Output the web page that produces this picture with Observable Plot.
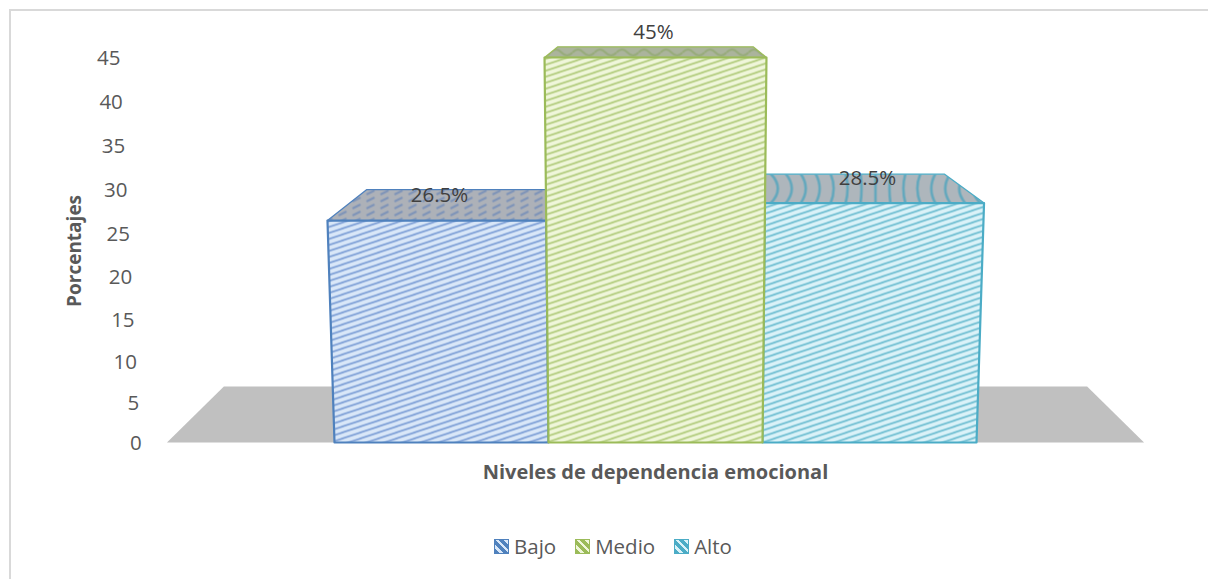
<!DOCTYPE html>
<html><head><meta charset="utf-8">
<script src="https://cdn.jsdelivr.net/npm/d3@7"></script>
<script src="https://cdn.jsdelivr.net/npm/@observablehq/plot@0.6"></script>
<style>
html,body{margin:0;padding:0;background:#fff;overflow:hidden}
body{width:1208px;height:579px;position:relative;font-family:"Open Sans",sans-serif}
#edge{position:absolute;left:9px;top:9px;right:0;bottom:0;border-left:2px solid #d9d9d9;border-top:2px solid #d9d9d9}
#chart{position:absolute;left:0;top:0}
#legend{position:absolute;left:494px;top:531px;display:flex;align-items:center;font-size:20.5px;line-height:30px;color:#595959;white-space:nowrap}
#legend span.sw{display:inline-block;width:15px;height:15px;margin-right:5px;box-sizing:border-box;border:1px solid}
#legend span.t{margin-right:19px}
svg{display:block}
</style></head><body>
<div id="edge"></div><div id="chart"></div><div id="legend"></div>
<script>
const categories = ["Bajo", "Medio", "Alto"];
const values = [26.5, 45, 28.5];
const valueLabels = ["26.5%", "45%", "28.5%"];
const yTicks = [0, 5, 10, 15, 20, 25, 30, 35, 40, 45];
const strokes = ["#4f81bd", "#9bbb59", "#4bacc6"];
const hatchBg = ["#d9e7f8", "#eff6da", "#daf2f8"];
const hatchInk = ["#7d9fd6", "#b1cb7c", "#6dbdd1"];
const topInk = ["#7d93b8", "#97ab7a", "#63a8bd"];

// perspective of the 3-D box, expressed in scale units
const center = 1.5;
const flare = v => 1 + 0.000825 * v;      // front faces widen with height
const backShrink = 0.88;
const depth = v => 3.55 - 0.127 * (v - 26.5);
const fx = (x, v) => center + (x - center) * flare(v);
const boxes = categories.map((c, i) => ({c, i, v: values[i]}));

function frontPoly(b) {
  return [[b.i, 0], [b.i + 1, 0], [fx(b.i + 1, b.v), b.v], [fx(b.i, b.v), b.v]]
    .map(([x, y]) => ({x, y, c: b.c}));
}
function topPoly(b) {
  const l = fx(b.i, b.v), r = fx(b.i + 1, b.v), t = b.v + depth(b.v);
  const s = x => center + (x - center) * backShrink;
  return [[l, b.v], [r, b.v], [s(r), t], [s(l), t]].map(([x, y]) => ({x, y, c: b.c}));
}
const floor = [[-0.783, 0], [3.783, 0], [3.517, 7.05], [-0.517, 7.05]].map(([x, y]) => ({x, y}));

function defs() {
  const d = d3.create("svg:defs");
  categories.forEach((c, i) => {
    const p = d.append("pattern").attr("id", "front" + i).attr("patternUnits", "userSpaceOnUse")
      .attr("width", 18).attr("height", 6);
    p.append("rect").attr("width", 18).attr("height", 6).attr("fill", hatchBg[i]);
    for (const o of [0, 6, -6])
      p.append("path").attr("d", `M-3 ${7 + o}L21 ${-1 + o}`).attr("stroke", hatchInk[i]).attr("stroke-width", 1.7).attr("fill", "none");
    const q = d.append("pattern").attr("id", "top" + i).attr("patternUnits", "userSpaceOnUse");
    if (i === 2) {
      q.attr("width", 220).attr("height", 30).attr("patternTransform", "translate(765,173)");
      q.append("rect").attr("width", 220).attr("height", 30).attr("fill", "#aeb6bc");
      for (const x of d3.range(5, 220, 15)) {
        q.append("path").attr("d", `M${x} 0Q${x + (110 - x) * 0.14} 15 ${x} 30`)
          .attr("stroke", topInk[i]).attr("stroke-width", 2.6).attr("fill", "none");
      }
    } else if (i === 1) {
      q.attr("width", 22).attr("height", 12).attr("patternTransform", "translate(0,46)");
      q.append("rect").attr("width", 22).attr("height", 12).attr("fill", "#abb49c");
      q.append("path").attr("d", "M0 6Q5.5 0 11 6T22 6").attr("stroke", topInk[i]).attr("stroke-width", 2).attr("fill", "none");
    } else {
      q.attr("width", 14).attr("height", 7);
      q.append("rect").attr("width", 14).attr("height", 7).attr("fill", "#adb1b8");
      q.append("path").attr("d", "M2 5L10 1").attr("stroke", topInk[i]).attr("stroke-width", 2).attr("fill", "none");
    }
  });
  return d.node();
}

const faceOf = (b) => [
  Plot.line(topPoly(b), {x: "x", y: "y", curve: "linear-closed", fill: `url(#top${b.i})`, stroke: strokes[b.i], strokeWidth: 1.3}),
  Plot.line(frontPoly(b), {x: "x", y: "y", curve: "linear-closed", fill: `url(#front${b.i})`, stroke: strokes[b.i], strokeWidth: 2.2})
];
const u = px => (px - 334) / 214;
const tickX = v => u(120 + (45 - v) * 0.47);

const plot = Plot.plot({
  width: 1208, height: 525,
  marginTop: 0, marginRight: 0, marginBottom: 0, marginLeft: 0,
  style: {background: "transparent", fontFamily: "'Open Sans',sans-serif", overflow: "visible"},
  x: {type: "linear", domain: [0, 3], range: [334, 976], axis: null},
  y: {type: "pow", exponent: 1.04, domain: [0, 45], range: [442, 57], axis: null},
  marks: [
    defs,
    Plot.line(floor, {x: "x", y: "y", curve: "linear-closed", fill: "#c0c0c0", stroke: "none"}),
    ...faceOf(boxes[0]), ...faceOf(boxes[2]), ...faceOf(boxes[1]),
    Plot.text(boxes, {x: b => b.i + 0.5, y: "v", text: (b, i) => valueLabels[i], dy: -25, dx: -2, fontSize: 20.5, fill: "#404040", textAnchor: "middle"}),
    Plot.text(yTicks, {x: tickX, y: d => d, text: d => String(d), textAnchor: "end", dy: 0.5, fontSize: 20.5, fill: "#595959"}),
    Plot.text(["Porcentajes"], {x: u(74), y: 23, text: d => d, rotate: -90, fontSize: 19, fontWeight: 700, fill: "#595959"}),
    Plot.text(["Niveles de dependencia emocional"], {x: u(655), y: -3.85, text: d => d, fontSize: 20, fontWeight: 700, fill: "#595959"})
  ]
});
document.getElementById("chart").append(plot);

const lg = d3.select("#legend");
categories.forEach((c, i) => {
  lg.append("span").attr("class", "sw")
    .style("border-color", strokes[i])
    .style("background", `repeating-linear-gradient(45deg, ${strokes[i]} 0 3.5px, ${hatchBg[i]} 3.5px 6px)`);
  lg.append("span").attr("class", "t").text(c);
});
</script>
</body></html>
